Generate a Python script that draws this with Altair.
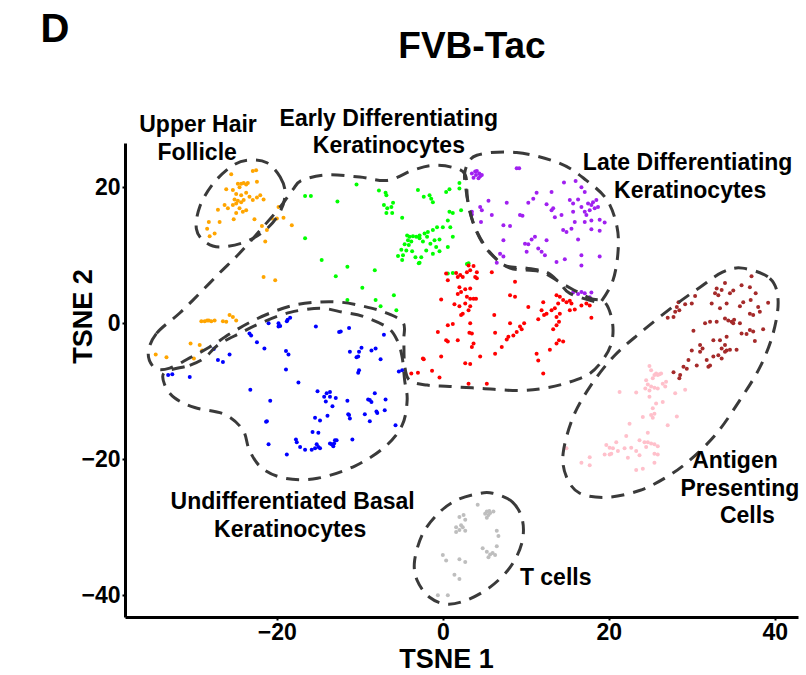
import altair as alt
import pandas as pd

FONT = "Liberation Sans"

# ---------------- cluster points (TSNE 1, TSNE 2) ----------------
upper_hair_follicle = [
    (-25.5, 21.9), (-22.9, 22.4), (-22.5, 22.5), (-24.7, 20.5), (-24.3, 20.5), (-24.0, 20.6),
    (-23.7, 20.4), (-23.5, 20.6), (-24.5, 20.0), (-22.4, 20.8), (-26.1, 19.7), (-25.3, 19.6),
    (-24.9, 19.0), (-24.3, 18.8), (-23.7, 19.2), (-23.3, 18.6), (-22.9, 18.1), (-22.4, 18.5),
    (-22.0, 18.8), (-21.6, 18.2), (-25.1, 18.2), (-24.7, 18.0), (-24.3, 17.8), (-24.0, 18.1),
    (-24.9, 17.6), (-25.3, 17.4), (-26.3, 17.4), (-25.9, 16.9), (-27.1, 16.7), (-24.5, 16.9),
    (-23.7, 16.6), (-24.9, 16.2), (-24.1, 16.4), (-19.8, 17.1), (-20.6, 15.4), (-20.0, 15.4),
    (-19.2, 15.5), (-18.2, 14.4), (-22.7, 15.3), (-25.2, 15.3), (-26.9, 14.9), (-28.2, 14.9),
    (-28.4, 13.9), (-27.5, 13.2), (-28.1, 12.8), (-21.8, 14.3), (-21.2, 13.7), (-21.4, 12.0),
    (-21.6, 6.8), (-20.2, 6.3),
    (-29.1, 0.3), (-28.7, 0.3), (-28.4, 0.4), (-28.2, 0.4), (-27.9, 0.3), (-27.5, 0.4),
    (-26.5, 0.3), (-26.1, 0.2), (-25.7, 1.2), (-25.3, 0.9), (-24.9, 0.4), (-30.4, -3.0),
    (-29.3, -3.2), (-29.0, -4.0), (-30.0, -5.2), (-34.6, -4.6), (-33.3, -5.0),
]

early_diff = [
    (-16.6, 18.7), (-15.9, 18.7), (-12.7, 17.9), (-10.4, 20.4), (-7.7, 19.5), (-6.9, 19.2),
    (-6.8, 18.8), (-7.1, 17.4), (-6.7, 16.9), (-6.2, 17.1), (-6.0, 17.7), (-6.1, 16.2),
    (-6.8, 16.2), (-4.9, 15.5), (-3.0, 19.6), (-16.6, 12.5), (-14.6, 9.3), (-11.5, 8.3),
    (-12.9, 6.9), (-8.2, 7.8), (-9.7, 5.2), (-5.9, 4.1), (-11.5, 3.4), (-8.1, 3.4),
    (-7.5, 2.5), (-5.6, 1.9),
    (-4.3, 12.9), (-4.0, 12.7), (-3.6, 12.8), (-3.2, 12.7), (-4.2, 12.2), (-3.8, 12.0),
    (-4.6, 11.6), (-4.1, 11.5), (-5.0, 10.8), (-4.4, 10.7), (-3.7, 10.6), (-4.8, 10.0),
    (-5.4, 9.9), (-4.9, 9.3), (-3.3, 9.7), (-2.9, 8.8),
    (-2.3, 18.6), (-1.6, 18.8), (-1.4, 18.3), (-1.2, 17.8), (0.4, 19.3), (0.8, 19.7),
    (2.0, 19.8), (2.0, 20.6), (2.2, 16.6), (0.8, 16.4), (1.2, 16.2), (0.6, 15.1),
    (0.9, 14.1), (1.2, 12.7), (0.0, 14.1), (-0.7, 14.1), (-1.2, 13.7), (-1.8, 13.4),
    (-2.2, 13.2), (-2.8, 12.9), (-2.8, 12.5), (-2.4, 12.0), (-1.9, 12.7), (-1.5, 11.7),
    (-1.0, 12.2), (-0.8, 11.2), (-0.4, 12.3), (-0.4, 10.6), (0.6, 11.2), (-2.0, 10.7),
    (-1.2, 10.2), (-2.6, 9.7), (-2.8, 8.9), (0.6, 7.3), (1.2, 7.4), (2.9, 8.7), (3.1, 8.8),
]

late_diff = [
    (3.5, 22.0), (3.9, 22.3), (4.1, 22.4), (4.4, 22.0), (4.0, 21.8), (4.5, 21.6), (3.7, 21.4),
    (4.3, 21.3), (4.7, 21.8), (8.9, 22.8), (9.2, 22.8), (14.6, 20.7), (16.0, 20.9), (16.7, 20.0),
    (17.1, 19.3), (11.3, 19.2), (13.1, 19.3), (7.7, 17.7), (10.3, 17.7), (10.9, 18.3), (12.5, 17.5),
    (13.1, 16.6), (13.3, 16.9), (13.5, 15.6), (14.3, 15.9), (15.3, 18.1), (15.7, 17.6), (16.3, 18.2),
    (16.7, 17.1), (17.1, 16.4), (17.5, 17.6), (17.9, 17.4), (18.1, 17.8), (18.5, 18.1), (17.7, 16.6),
    (18.3, 16.9), (18.7, 17.1), (17.3, 15.9), (17.9, 15.1), (18.9, 15.2), (19.5, 14.8), (17.1, 14.9),
    (15.7, 16.4), (15.9, 14.9), (14.5, 13.7), (14.9, 13.4), (15.5, 13.9), (16.3, 12.3), (17.9, 13.8),
    (18.9, 13.6), (4.5, 17.1), (4.7, 16.6), (3.5, 16.4), (5.5, 18.0), (5.9, 15.9), (7.3, 14.4),
    (8.1, 14.3), (7.3, 12.2), (9.3, 15.9), (9.6, 15.8), (9.9, 11.7), (10.3, 11.6), (10.7, 12.3),
    (11.1, 12.7), (12.5, 12.2), (11.5, 11.0), (11.9, 10.5), (12.3, 10.0), (10.1, 10.5), (6.9, 10.2),
    (7.3, 9.8), (6.5, 8.9), (13.7, 9.0), (14.7, 9.4), (16.7, 10.0), (18.9, 9.8), (16.7, 8.5),
    (15.7, 4.5), (16.3, 4.3), (16.7, 4.6), (17.1, 4.4), (17.7, 3.8), (17.9, 4.5), (4.6, 14.9),
    (3.5, 16.0),
]

red_cluster = [
    (3.1, 8.5), (3.7, 8.4), (3.3, 7.8), (1.6, 7.4), (2.1, 7.1), (1.8, 6.8), (2.4, 6.8), (2.9, 7.5),
    (4.1, 7.5), (3.9, 6.8), (4.1, 6.6), (0.4, 7.3), (0.6, 6.3), (2.0, 5.3), (2.7, 5.0), (3.3, 5.1),
    (2.2, 4.6), (1.8, 4.3), (2.9, 3.9), (3.3, 3.6), (3.7, 3.6), (4.0, 3.6), (5.9, 7.5), (8.7, 6.1),
    (8.1, 4.1), (8.7, 3.9), (2.7, 2.9), (1.4, 2.8), (2.0, 2.5), (3.3, 2.5), (3.1, 1.9), (2.4, 1.4),
    (2.2, 1.2), (-0.2, 3.5), (13.7, 4.1), (14.1, 3.9), (14.5, 3.4), (14.9, 3.1), (15.3, 3.3),
    (15.5, 2.9), (13.9, 2.9), (13.5, 2.2), (13.1, 1.9), (12.5, 1.4), (12.2, 1.2), (11.5, 0.6),
    (11.9, 1.9), (10.3, 2.4), (12.1, 3.1), (15.3, 1.9), (15.9, 2.0), (16.7, 2.6), (17.3, 2.9),
    (17.7, 2.6), (17.9, 0.8), (14.1, 1.4), (13.7, 0.9), (14.0, 0.2), (13.7, -0.3), (13.3, -0.9),
    (14.0, -2.5), (14.5, -2.7), (13.7, -3.0), (6.2, 1.2), (8.1, 0.0), (9.8, 0.0), (9.3, -0.5),
    (9.5, -0.9), (8.9, -1.3), (8.5, -1.8), (7.9, -2.0), (7.7, -2.4), (6.3, -1.4), (3.3, 0.0),
    (3.5, -1.5), (3.2, -1.4), (1.2, -0.1), (0.6, -0.3), (0.4, -2.5), (0.6, -2.7), (1.8, -2.5),
    (3.7, -3.0), (3.5, -3.5), (4.5, -4.9), (2.7, -5.9), (3.3, -6.0), (-0.2, -4.9), (-0.6, -1.3),
    (-2.3, -5.3), (-1.3, -7.0), (-0.4, -8.0), (-3.8, -7.4), (-3.0, -7.3), (11.3, -4.5),
    (11.5, -5.5), (12.9, -3.9), (12.1, -7.4), (3.1, -8.9), (5.3, -8.9), (6.3, -4.5), (7.1, -3.5),
    (-2.4, -5.2),
]

undiff_basal = [
    (-21.0, 0.0), (-19.8, 0.0), (-19.6, -0.4), (-19.8, -0.5), (-18.7, 0.5), (-18.4, 0.8),
    (-18.8, 0.3), (-15.3, -0.5), (-12.5, -1.3), (-12.3, -1.2), (-11.3, -0.7), (-27.6, -3.8),
    (-25.7, -4.6), (-27.1, -5.4), (-26.5, -5.7), (-23.3, -1.5), (-23.1, -1.8), (-22.4, -2.8),
    (-21.5, -3.7), (-18.9, -4.1), (-18.6, -4.6), (-18.9, -6.8), (-33.1, -7.6), (-32.6, -7.5),
    (-30.5, -7.9), (-17.4, -8.7), (-23.2, -9.8), (-20.8, -11.4), (-21.3, -14.5), (-21.2, -14.4),
    (-21.0, -17.8), (-18.8, -19.3), (-17.7, -17.1), (-17.6, -17.5), (-17.2, -18.2), (-16.6, -18.6),
    (-15.8, -18.6), (-15.4, -18.4), (-15.2, -17.8), (-15.0, -18.2), (-14.8, -18.4), (-15.7, -16.0),
    (-15.0, -16.1), (-15.4, -13.9), (-14.8, -14.3), (-13.9, -13.6), (-13.4, -17.8), (-13.1, -17.7),
    (-13.0, -17.2), (-13.2, -18.1), (-12.8, -17.2), (-13.6, -17.7), (-10.9, -17.1), (-15.1, -10.0),
    (-14.3, -10.8), (-14.0, -10.3), (-13.6, -10.1), (-14.1, -11.5), (-13.6, -10.8), (-12.9, -11.0),
    (-13.3, -12.2), (-11.5, -11.4), (-11.2, -4.2), (-10.1, -4.2), (-9.8, -3.6), (-10.2, -4.9),
    (-10.4, -5.0), (-8.6, -4.0), (-8.1, -3.7), (-7.5, -5.3), (-10.1, -6.9), (-10.2, -7.3),
    (-11.3, -13.5), (-11.2, -14.0), (-11.4, -13.4), (-9.4, -13.4), (-8.8, -14.4), (-9.0, -11.2),
    (-8.8, -11.3), (-8.6, -11.6), (-8.2, -10.3), (-8.0, -13.0), (-7.9, -13.2), (-7.0, -12.8),
    (-6.9, -11.2), (-7.1, -1.7), (-5.3, -7.1), (-4.9, -6.9), (-5.7, -15.0),
]

antigen_brown = [
    (37.2, 6.9), (34.0, 5.9), (33.0, 5.1), (33.6, 4.9), (32.8, 4.4), (33.2, 4.1), (34.6, 4.4),
    (35.0, 4.8), (36.0, 5.6), (37.0, 5.3), (37.7, 4.4), (36.2, 3.1), (34.2, 2.9), (33.4, 2.2),
    (32.4, 2.9), (30.4, 4.0), (30.0, 2.9), (29.2, 2.8), (28.4, 3.1), (28.2, 2.4), (28.5, 1.9),
    (28.0, 1.7), (27.1, 0.8), (27.8, 0.9), (31.6, 0.0), (32.2, 0.2), (33.0, 0.2), (34.0, 0.7),
    (34.4, 0.4), (34.8, 0.2), (35.1, 0.5), (35.0, 0.0), (35.8, 0.0), (37.0, 1.4), (37.4, 1.2),
    (38.2, 1.7), (38.0, 2.4), (39.2, 3.0), (38.6, -0.9), (36.0, -1.5), (36.6, -1.6), (37.4, -1.2),
    (37.6, -2.6), (37.0, -1.0), (34.2, -2.0), (33.4, -2.5), (32.6, -2.5), (34.0, -3.2), (33.6, -3.7),
    (34.0, -4.2), (34.2, -4.0), (34.6, -3.9), (35.4, -3.9), (33.2, -4.7), (33.6, -5.2), (32.6, -4.9),
    (31.8, -5.4), (32.0, -6.4), (32.2, -6.2), (30.6, -6.2), (30.2, -1.1), (31.0, -3.2), (31.3, -3.7),
    (30.0, -4.0), (31.0, -4.2), (29.6, -5.4), (29.0, -6.4), (29.4, -6.7), (27.8, -7.2), (28.6, -7.6),
    (28.5, -8.1), (37.1, 3.4), (35.8, 2.5),
]

antigen_pink = [
    (24.9, -6.3), (25.1, -6.9), (25.5, -7.6), (25.7, -7.4), (25.9, -7.6), (26.1, -7.5), (26.3, -7.4),
    (25.3, -8.1), (24.5, -8.4), (24.7, -9.0), (25.1, -9.3), (25.5, -9.5), (24.4, -9.6), (24.9, -9.9),
    (25.9, -9.6), (26.5, -8.9), (26.9, -8.6), (26.8, -9.3), (28.0, -10.3), (29.2, -9.8), (23.3, -10.2),
    (21.3, -10.1), (24.9, -10.8), (25.7, -11.8), (26.5, -11.6), (25.3, -12.5), (25.5, -13.3),
    (25.1, -13.5), (24.1, -13.8), (25.3, -13.9), (28.2, -13.7), (27.1, -15.0), (22.5, -14.8),
    (24.7, -16.1), (23.7, -17.2), (24.3, -17.5), (24.7, -17.5), (25.1, -17.7), (25.5, -17.8),
    (25.9, -18.1), (24.5, -18.2), (20.9, -17.5), (19.7, -17.9), (20.1, -18.3), (20.5, -18.4),
    (21.1, -18.8), (20.3, -19.2), (19.5, -19.3), (22.1, -16.6), (21.9, -18.4), (22.7, -18.3),
    (22.3, -19.8), (23.3, -18.8), (23.7, -19.4), (25.5, -19.2), (25.9, -19.3), (25.5, -20.5),
    (17.7, -19.7), (17.7, -20.9), (16.7, -20.5), (14.9, -18.4), (23.3, -21.6), (24.1, -21.4),
    (20.1, -19.3),
]

t_cells = [
    (4.2, -26.7), (2.0, -28.5), (2.5, -28.2), (2.7, -28.9), (2.2, -29.7), (2.4, -30.0), (1.6, -30.0),
    (1.6, -30.7), (2.0, -30.4), (2.7, -30.5), (5.1, -28.0), (5.3, -27.7), (5.6, -27.6), (5.7, -27.9),
    (5.5, -28.2), (6.1, -27.7), (5.3, -28.6), (6.5, -30.5), (6.7, -31.3), (6.5, -32.8), (4.8, -33.1),
    (5.3, -33.6), (5.7, -34.0), (6.0, -33.8), (6.3, -34.1), (5.5, -34.4), (0.0, -34.1), (0.4, -34.9),
    (2.0, -34.7), (2.7, -35.1), (1.4, -37.0), (2.0, -37.6), (-0.6, -40.0), (0.6, -40.0),
]

cluster_names = ["Upper Hair Follicle", "Early Differentiating", "Late Differentiating",
                 "Red", "Undifferentiated Basal", "APC brown", "APC pink", "T cells"]
cluster_colors = ["#FFA500", "#00FF00", "#A020F0", "#FF0000", "#0000FF", "#A52A2A",
                  "#FFC0CB", "#BEBEBE"]
cluster_points = [upper_hair_follicle, early_diff, late_diff, red_cluster, undiff_basal,
                  antigen_brown, antigen_pink, t_cells]

# ---------------- dashed outlines (vertices in data units) ----------------
outline_follicle = [(-21.2, 23.6), (-19.6, 21.5), (-19.0, 19.1), (-19.6, 16.4), (-21.2, 13.9),
                    (-23.7, 12.0), (-26.9, 11.2), (-28.7, 12.0), (-29.7, 13.9), (-29.3, 17.1),
                    (-27.7, 20.5), (-25.3, 23.2), (-23.3, 24.0)]
outline_early = [(-35.5, -4.4), (-34.5, -1.5), (-31.7, 1.5), (-29.3, 4.4), (-26.9, 7.4),
                 (-24.5, 10.3), (-21.7, 14.1), (-19.6, 17.1), (-18.1, 19.6), (-17.0, 21.0),
                 (-14.0, 21.8), (-10.0, 21.5), (-6.7, 21.0), (-3.6, 22.5), (-1.2, 23.2),
                 (1.2, 22.9), (2.7, 21.8), (3.0, 18.1), (3.9, 14.0), (5.7, 10.4), (8.1, 8.1),
                 (11.7, 7.6), (14.7, 5.6), (17.7, 3.7), (19.5, 3.1), (20.4, 0.4), (20.4, -2.5),
                 (19.5, -5.0), (17.7, -7.4), (14.9, -8.8), (12.0, -9.6), (8.9, -9.9), (4.8, -9.6),
                 (0.8, -9.3), (-1.9, -9.1), (-4.0, -8.4), (-4.6, -6.2), (-4.7, -2.5), (-4.8, 0.1),
                 (-7.0, 1.6), (-9.6, 2.5), (-12.4, 3.1), (-15.2, 3.1), (-18.1, 2.6), (-20.8, 1.5),
                 (-23.3, 0.1), (-25.7, -1.6), (-28.1, -3.5), (-30.5, -5.1), (-32.9, -6.6),
                 (-34.7, -6.6)]
outline_basal = [(-33.5, -7.2), (-30.5, -6.2), (-28.7, -5.1), (-27.1, -3.2), (-24.5, -1.5),
                 (-21.8, 0.1), (-18.4, 1.6), (-14.8, 2.2), (-12.0, 1.6), (-9.6, 1.0), (-6.7, -0.6),
                 (-5.5, -2.5), (-4.9, -5.0), (-4.6, -8.4), (-4.3, -11.3), (-4.9, -15.0),
                 (-7.0, -18.2), (-10.6, -21.0), (-15.1, -22.8), (-19.0, -22.8), (-21.8, -21.3),
                 (-23.3, -18.7), (-24.1, -15.7), (-26.3, -13.4), (-29.9, -12.4), (-32.3, -11.0),
                 (-33.5, -9.1)]
outline_late = [(4.1, 24.7), (8.9, 25.1), (14.1, 23.5), (17.3, 21.0), (19.8, 18.1), (21.0, 14.1),
                (21.1, 10.3), (20.5, 6.3), (19.2, 3.4), (18.6, 3.1), (15.3, 4.4), (14.1, 5.9),
                (12.5, 7.5), (10.1, 8.1), (7.7, 8.4), (6.3, 9.6), (5.1, 11.2), (4.1, 13.4),
                (3.3, 16.2), (2.8, 19.6), (2.7, 22.5)]
outline_apc = [(36.1, 8.1), (39.4, 6.6), (40.4, 3.4), (39.8, -1.5), (38.2, -6.5), (35.8, -11.3),
               (33.0, -16.2), (29.8, -20.1), (27.0, -22.6), (23.7, -24.6), (19.8, -25.6),
               (16.5, -25.0), (14.9, -22.6), (14.5, -19.1), (15.7, -13.8), (17.7, -9.4),
               (20.5, -5.0), (23.7, -1.5), (27.7, 2.4), (31.0, 5.3), (33.7, 7.5)]
outline_tcell = [(6.0, -25.0), (8.4, -26.3), (9.6, -29.0), (9.5, -32.4), (8.1, -35.9),
                 (5.7, -38.8), (2.9, -40.7), (0.5, -41.3), (-1.6, -40.3), (-3.1, -37.8),
                 (-3.4, -34.9), (-2.4, -30.9), (-0.4, -27.8), (1.7, -26.0), (4.1, -25.1)]
outlines = {"follicle": outline_follicle, "early": outline_early, "basal": outline_basal,
            "late": outline_late, "apc": outline_apc, "tcell": outline_tcell}

# ---------------- text labels ----------------
label_text = ["Upper Hair", "Follicle", "Early Differentiating", "Keratinocytes",
              "Late Differentiating", "Keratinocytes", "Antigen", "Presenting", "Cells",
              "Undifferentiated Basal", "Keratinocytes", "T cells"]
label_x = [-29.5, -29.6, -6.5, -6.5, 29.5, 29.8, 35.2, 35.8, 36.7, -18.1, -18.4, 13.6]
label_y = [29.1, 25.1, 30.1, 26.0, 23.5, 19.4, -20.3, -24.4, -28.4, -26.3, -30.4, -37.4]

x_ticks = [-20, 0, 20, 40]
y_ticks = [-40, -20, 0, 20]
x_domain = [-38.3, 42.8]
y_domain = [-43.2, 26.5]

# ---------------- build tables ----------------
rows = []
for name, pts in zip(cluster_names, cluster_points):
    for x, y in pts:
        rows.append({"tsne1": x, "tsne2": y, "cluster": name})
points_df = pd.DataFrame(rows)

orows = []
for name, verts in outlines.items():
    for i, (x, y) in enumerate(verts):
        orows.append({"tsne1": x, "tsne2": y, "outline": name, "idx": i})
outline_df = pd.DataFrame(orows)

labels_df = pd.DataFrame({"tsne1": label_x, "tsne2": label_y, "text": label_text})

x_enc = alt.X("tsne1:Q", scale=alt.Scale(domain=x_domain, nice=False, zero=False),
              axis=alt.Axis(values=x_ticks, title="TSNE 1", grid=False, domainColor="black",
                            domainWidth=3, tickColor="black", tickSize=3, tickWidth=2,
                            labelFont=FONT, labelFontSize=23, labelFontWeight="bold",
                            labelColor="black", labelPadding=1, titleFont=FONT,
                            titleFontSize=27, titleFontWeight="bold", titleColor="black",
                            titleX=321, titleY=56, titleBaseline="bottom"))
y_enc = alt.Y("tsne2:Q", scale=alt.Scale(domain=y_domain, nice=False, zero=False),
              axis=alt.Axis(values=y_ticks, title="TSNE 2", grid=False, domainColor="black",
                            domainWidth=3, tickColor="black", tickSize=3, tickWidth=2,
                            labelFont=FONT, labelFontSize=23, labelFontWeight="bold",
                            labelColor="black", labelPadding=2, titleFont=FONT,
                            titleFontSize=27, titleFontWeight="bold", titleColor="black",
                            titleAngle=270, titleX=-42, titleY=173,
                            titleBaseline="middle", titleAlign="center"))

pts = alt.Chart(points_df).mark_circle(size=16, opacity=1).encode(
    x=x_enc, y=y_enc,
    color=alt.Color("cluster:N", scale=alt.Scale(domain=cluster_names, range=cluster_colors),
                    legend=None),
)

lines = alt.Chart(outline_df).mark_line(
    interpolate="cardinal-closed", strokeDash=[13, 9], strokeWidth=3, color="#3a3a3a",
    strokeCap="butt"
).encode(x="tsne1:Q", y="tsne2:Q", detail="outline:N", order="idx:Q")

labels = alt.Chart(labels_df).mark_text(
    font=FONT, fontSize=23, fontWeight="bold", color="black", baseline="middle", align="center"
).encode(x="tsne1:Q", y="tsne2:Q", text="text:N")

title = alt.Chart(pd.DataFrame({"t": ["FVB-Tac"]})).mark_text(
    font=FONT, fontSize=37, fontWeight="bold", color="black", baseline="middle", align="center"
).encode(text="t:N", x=alt.value(347), y=alt.value(-96))

panel = alt.Chart(pd.DataFrame({"t": ["D"]})).mark_text(
    font=FONT, fontSize=40, fontWeight="bold", color="black", baseline="middle", align="center"
).encode(text="t:N", x=alt.value(-70), y=alt.value(-113))

chart = alt.layer(pts, lines, labels, title, panel).properties(
    width=673, height=474,
    padding={"left": 125, "top": 143, "right": 8, "bottom": 58},
    autosize=alt.AutoSizeParams(type="none"),
).configure_view(stroke=None)

chart.save("out.html", embed_options={"renderer": "svg", "actions": False})
